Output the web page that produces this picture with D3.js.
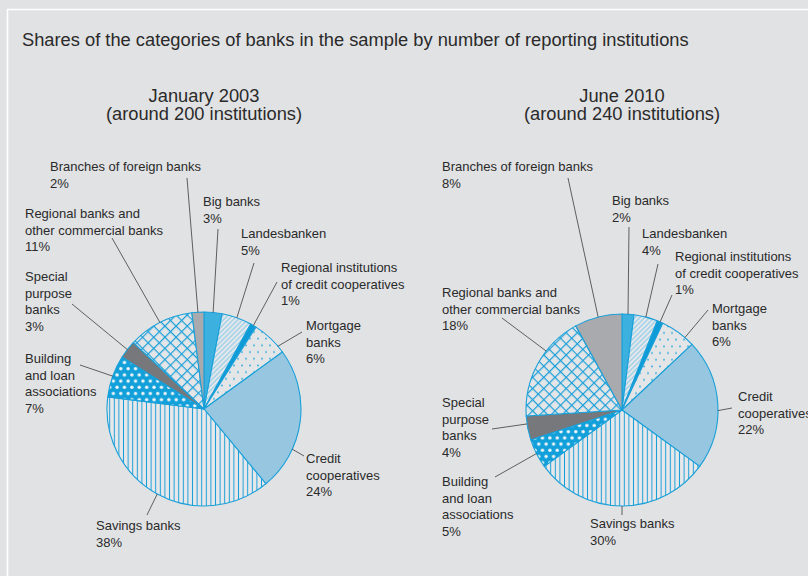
<!DOCTYPE html>
<html>
<head>
<meta charset="utf-8">
<script src="https://cdn.jsdelivr.net/npm/d3@7"></script>
<style>
  html, body { margin: 0; padding: 0; background: #e1e2e4; }
  svg { display: block; }
  text { font-family: "Liberation Sans", Arial, sans-serif; fill: #2a2a2a; }
</style>
</head>
<body>
<svg id="chart" width="808" height="576"></svg>
<script>
// Categories of banks, clockwise from 12 o'clock
const categories = [
  "Big banks",
  "Landesbanken",
  "Regional institutions of credit cooperatives",
  "Mortgage banks",
  "Credit cooperatives",
  "Savings banks",
  "Building and loan associations",
  "Special purpose banks",
  "Regional banks and other commercial banks",
  "Branches of foreign banks"
];
// How each category name is broken over lines in the labels
const labelLines = [
  ["Big banks"],
  ["Landesbanken"],
  ["Regional institutions", "of credit cooperatives"],
  ["Mortgage", "banks"],
  ["Credit", "cooperatives"],
  ["Savings banks"],
  ["Building", "and loan", "associations"],
  ["Special", "purpose", "banks"],
  ["Regional banks and", "other commercial banks"],
  ["Branches of foreign banks"]
];
// Shares in % of reporting institutions
const shares2003 = [3, 5, 1, 6, 24, 38, 7, 3, 11, 2];
const shares2010 = [2, 4, 1, 6, 22, 30, 5, 4, 18, 8];

const chartTitle = "Shares of the categories of banks in the sample by number of reporting institutions";
const pieTitles2003 = ["January 2003", "(around 200 institutions)"];
const pieTitles2010 = ["June 2010", "(around 240 institutions)"];

// Fill of each category (pattern ids or colours)
const fills = ["#3cb1df", "url(#pDiag)", "#0e9cd8", "url(#pDotsSmall)", "#97c7e0",
               "url(#pVert)", "url(#pDotsWhite)", "#77787b", "url(#pCross)", "#a9aaad"];

// Label layout: first baseline of each label, leader end next to the label,
// and where along its slice the leader touches the rim (0..1)
const layout2003 = {
  cx: 204, cy: 409, r: 97,
  text: [[203,206],[241,238],[281,272],[306,330],[306,463],[96,530],[25,363],[25,281],[25,218],[50,171]],
  leader: [[218,229],[254,263],[277,282],[302,332],[304,456],[147,515],[80,365],[72,304],[112,238],[187,178]],
  along: [0.5,0.5,0.5,0.8,0.7,0.5,0.5,0.5,0.5,0.5]
};
const layout2010 = {
  cx: 622, cy: 410, r: 96,
  text: [[612,205],[642,238],[675,261],[712,313],[738,401],[590,528],[442,486],[442,407],[442,297],[442,171]],
  leader: [[629,227],[658,264],[672,295],[708,310],[732,408],[622,515],[495,477],[492,429],[502,318],[568,178]],
  along: [0.5,0.5,0.5,0.73,0.55,0.5,0.5,0.67,0.64,0.5]
};

const BLUE = "#1aa0d9";
const svg = d3.select("#chart");

// ---- hatching and dot patterns ----
const defs = svg.append("defs");
const bg = "#e4e5e7";

let p = defs.append("pattern").attr("id", "pVert").attr("patternUnits", "userSpaceOnUse")
  .attr("width", 4.6).attr("height", 10);
p.append("rect").attr("width", 4.6).attr("height", 10).attr("fill", "#e7e8ea");
p.append("line").attr("x1", 2.3).attr("x2", 2.3).attr("y1", 0).attr("y2", 10)
  .attr("stroke", BLUE).attr("stroke-width", 1);

p = defs.append("pattern").attr("id", "pCross").attr("patternUnits", "userSpaceOnUse")
  .attr("width", 7.9).attr("height", 7.9).attr("patternTransform", "rotate(45)");
p.append("rect").attr("width", 7.9).attr("height", 7.9).attr("fill", bg);
p.append("line").attr("x1", 0).attr("x2", 7.9).attr("y1", 0.6).attr("y2", 0.6)
  .attr("stroke", BLUE).attr("stroke-width", 1.2);
p.append("line").attr("x1", 0.6).attr("x2", 0.6).attr("y1", 0).attr("y2", 7.9)
  .attr("stroke", BLUE).attr("stroke-width", 1.2);

p = defs.append("pattern").attr("id", "pDiag").attr("patternUnits", "userSpaceOnUse")
  .attr("width", 3.4).attr("height", 10).attr("patternTransform", "rotate(45)");
p.append("rect").attr("width", 3.4).attr("height", 10).attr("fill", "#e6e8eb");
p.append("line").attr("x1", 1.7).attr("x2", 1.7).attr("y1", 0).attr("y2", 10)
  .attr("stroke", "#74c3e7").attr("stroke-width", 0.9);

p = defs.append("pattern").attr("id", "pDotsSmall").attr("patternUnits", "userSpaceOnUse")
  .attr("width", 8).attr("height", 13.4);
p.append("rect").attr("width", 8).attr("height", 13.4).attr("fill", bg);
p.append("circle").attr("cx", 2).attr("cy", 3.35).attr("r", 0.9).attr("fill", "#2aa8de");
p.append("circle").attr("cx", 6).attr("cy", 10.05).attr("r", 0.9).attr("fill", "#2aa8de");

p = defs.append("pattern").attr("id", "pDotsWhite").attr("patternUnits", "userSpaceOnUse")
  .attr("width", 7.4).attr("height", 12.4);
p.append("rect").attr("width", 7.4).attr("height", 12.4).attr("fill", "#12a0da");
p.append("circle").attr("cx", 1.85).attr("cy", 3.1).attr("r", 1.7).attr("fill", "#f4f6f8");
p.append("circle").attr("cx", 5.55).attr("cy", 9.3).attr("r", 1.7).attr("fill", "#f4f6f8");

// ---- panel frame ----
svg.append("line").attr("x1", 7.5).attr("x2", 7.5).attr("y1", 9).attr("y2", 576)
  .attr("stroke", "#ffffff").attr("stroke-width", 1.6);
svg.append("line").attr("x1", 7).attr("x2", 808).attr("y1", 9.5).attr("y2", 9.5)
  .attr("stroke", "#ffffff").attr("stroke-width", 1.6);

// ---- title ----
svg.append("text").attr("x", 22).attr("y", 46)
  .attr("font-size", 18.3).text(chartTitle);

const pie = d3.pie().sort(null).value(d => d).startAngle(0).endAngle(2 * Math.PI);

function drawPie(values, titles, L) {
  const g = svg.append("g");
  // heading above the pie
  g.selectAll("text.head").data(titles).join("text")
    .attr("class", "head")
    .attr("x", L.cx).attr("y", (d, i) => 102 + i * 18)
    .attr("text-anchor", "middle").attr("font-size", 18.3)
    .text(d => d);

  const arcs = pie(values);
  const arc = d3.arc().innerRadius(0).outerRadius(L.r);
  const pg = g.append("g").attr("transform", `translate(${L.cx},${L.cy})`);
  pg.selectAll("path").data(arcs).join("path")
    .attr("d", arc)
    .attr("fill", (d, i) => fills[i])
    .attr("stroke", BLUE).attr("stroke-width", 1.1)
    .attr("stroke-linejoin", "round");

  // leader lines from the rim to the labels
  arcs.forEach((a, i) => {
    const t = L.along[i];
    const ang = a.startAngle + (a.endAngle - a.startAngle) * t;
    const x0 = L.cx + L.r * Math.sin(ang);
    const y0 = L.cy - L.r * Math.cos(ang);
    g.append("line")
      .attr("x1", x0).attr("y1", y0)
      .attr("x2", L.leader[i][0]).attr("y2", L.leader[i][1])
      .attr("stroke", "#3c3c3c").attr("stroke-width", 0.8);

    const lines = labelLines[i].concat([values[i] + "%"]);
    const tx = g.append("text").attr("font-size", 13)
      .attr("x", L.text[i][0]).attr("y", L.text[i][1]);
    lines.forEach((s, k) => {
      tx.append("tspan").attr("x", L.text[i][0]).attr("dy", k === 0 ? 0 : 16.7).text(s);
    });
  });
}

drawPie(shares2003, pieTitles2003, layout2003);
drawPie(shares2010, pieTitles2010, layout2010);
</script>
</body>
</html>
